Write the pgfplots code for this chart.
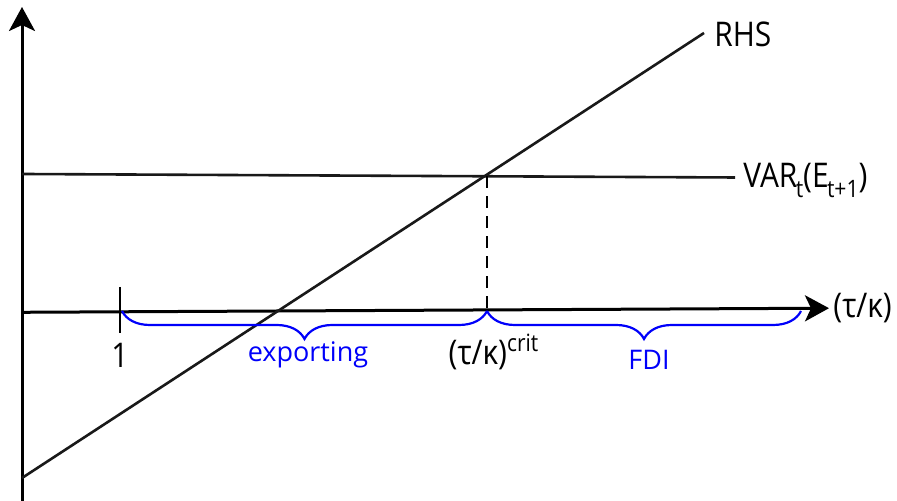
\documentclass[border=0pt]{standalone}
\usepackage{pgfplots}
\pgfplotsset{compat=1.18}
\usepackage{fontspec}
\setmainfont{Open Sans}
\newfontfamily\narrow[FakeStretch=0.88]{Open Sans}
\usetikzlibrary{arrows.meta,decorations.pathreplacing}
\definecolor{braceblue}{RGB}{0,0,250}
\newcommand{\lab}{\narrow\fontsize{17}{20}\selectfont}
\newcommand{\blab}{\fontsize{13.5}{16}\selectfont}
\newcommand{\sub}[1]{\kern-0.05em\raisebox{-0.55ex}{\fontsize{12}{14}\selectfont #1}}
\begin{document}
\begin{tikzpicture}
\begin{axis}[
  width=448.5pt, height=250.5pt, scale only axis,
  xmin=0, xmax=897, ymin=0, ymax=501,
  hide axis, clip=false,
]
% frame for the bounding box
\addplot[draw=none] coordinates {(0,0) (897,501)};
% axes
\addplot[line width=1.5pt, -{Stealth[length=12pt,width=13pt,inset=3pt]}] coordinates {(22,0) (22,494)};
\addplot[line width=1.5pt, -{Stealth[length=12pt,width=13pt,inset=3pt]}] coordinates {(22,188.7) (829,192.8)};
% tick at 1
\addplot[line width=1.3pt] coordinates {(120,214) (120,168)};
% VAR line
\addplot[line width=1.3pt, black!90] coordinates {(22,327) (735,323.5)};
% RHS line
\addplot[line width=1.3pt, black!90] coordinates {(22,23) (704,468)};
% dashed drop
\addplot[line width=1pt, dash pattern=on 6pt off 4pt] coordinates {(487,324.5) (487,191)};
% braces
\addplot[braceblue, line width=1.1pt, decorate, decoration={brace, mirror, amplitude=14pt}] coordinates {(122,190) (487,190)};
\addplot[braceblue, line width=1.1pt, decorate, decoration={brace, mirror, amplitude=14pt}] coordinates {(487,190) (801,190)};
% labels
\node[anchor=west, inner sep=0pt] at (axis cs:714,467) {\lab RHS};
\node[anchor=west, inner sep=0pt] at (axis cs:743,321) {\lab VAR\sub{t}(E\sub{t+1})};
\node[anchor=west, inner sep=0pt] at (axis cs:833,193) {\lab (τ/κ)};
\node[inner sep=0pt] at (axis cs:120,146) {\lab 1};
\node[inner sep=0pt] at (axis cs:494,149) {\lab (τ/κ)\textsuperscript{crit}};
\node[inner sep=0pt, text=braceblue] at (axis cs:308,146) {\blab exporting};
\node[inner sep=0pt, text=braceblue] at (axis cs:649,141) {\blab FDI};
\end{axis}
\pgfresetboundingbox
\path (0,0) rectangle (448.5pt,250.5pt);
\end{tikzpicture}
\end{document}
